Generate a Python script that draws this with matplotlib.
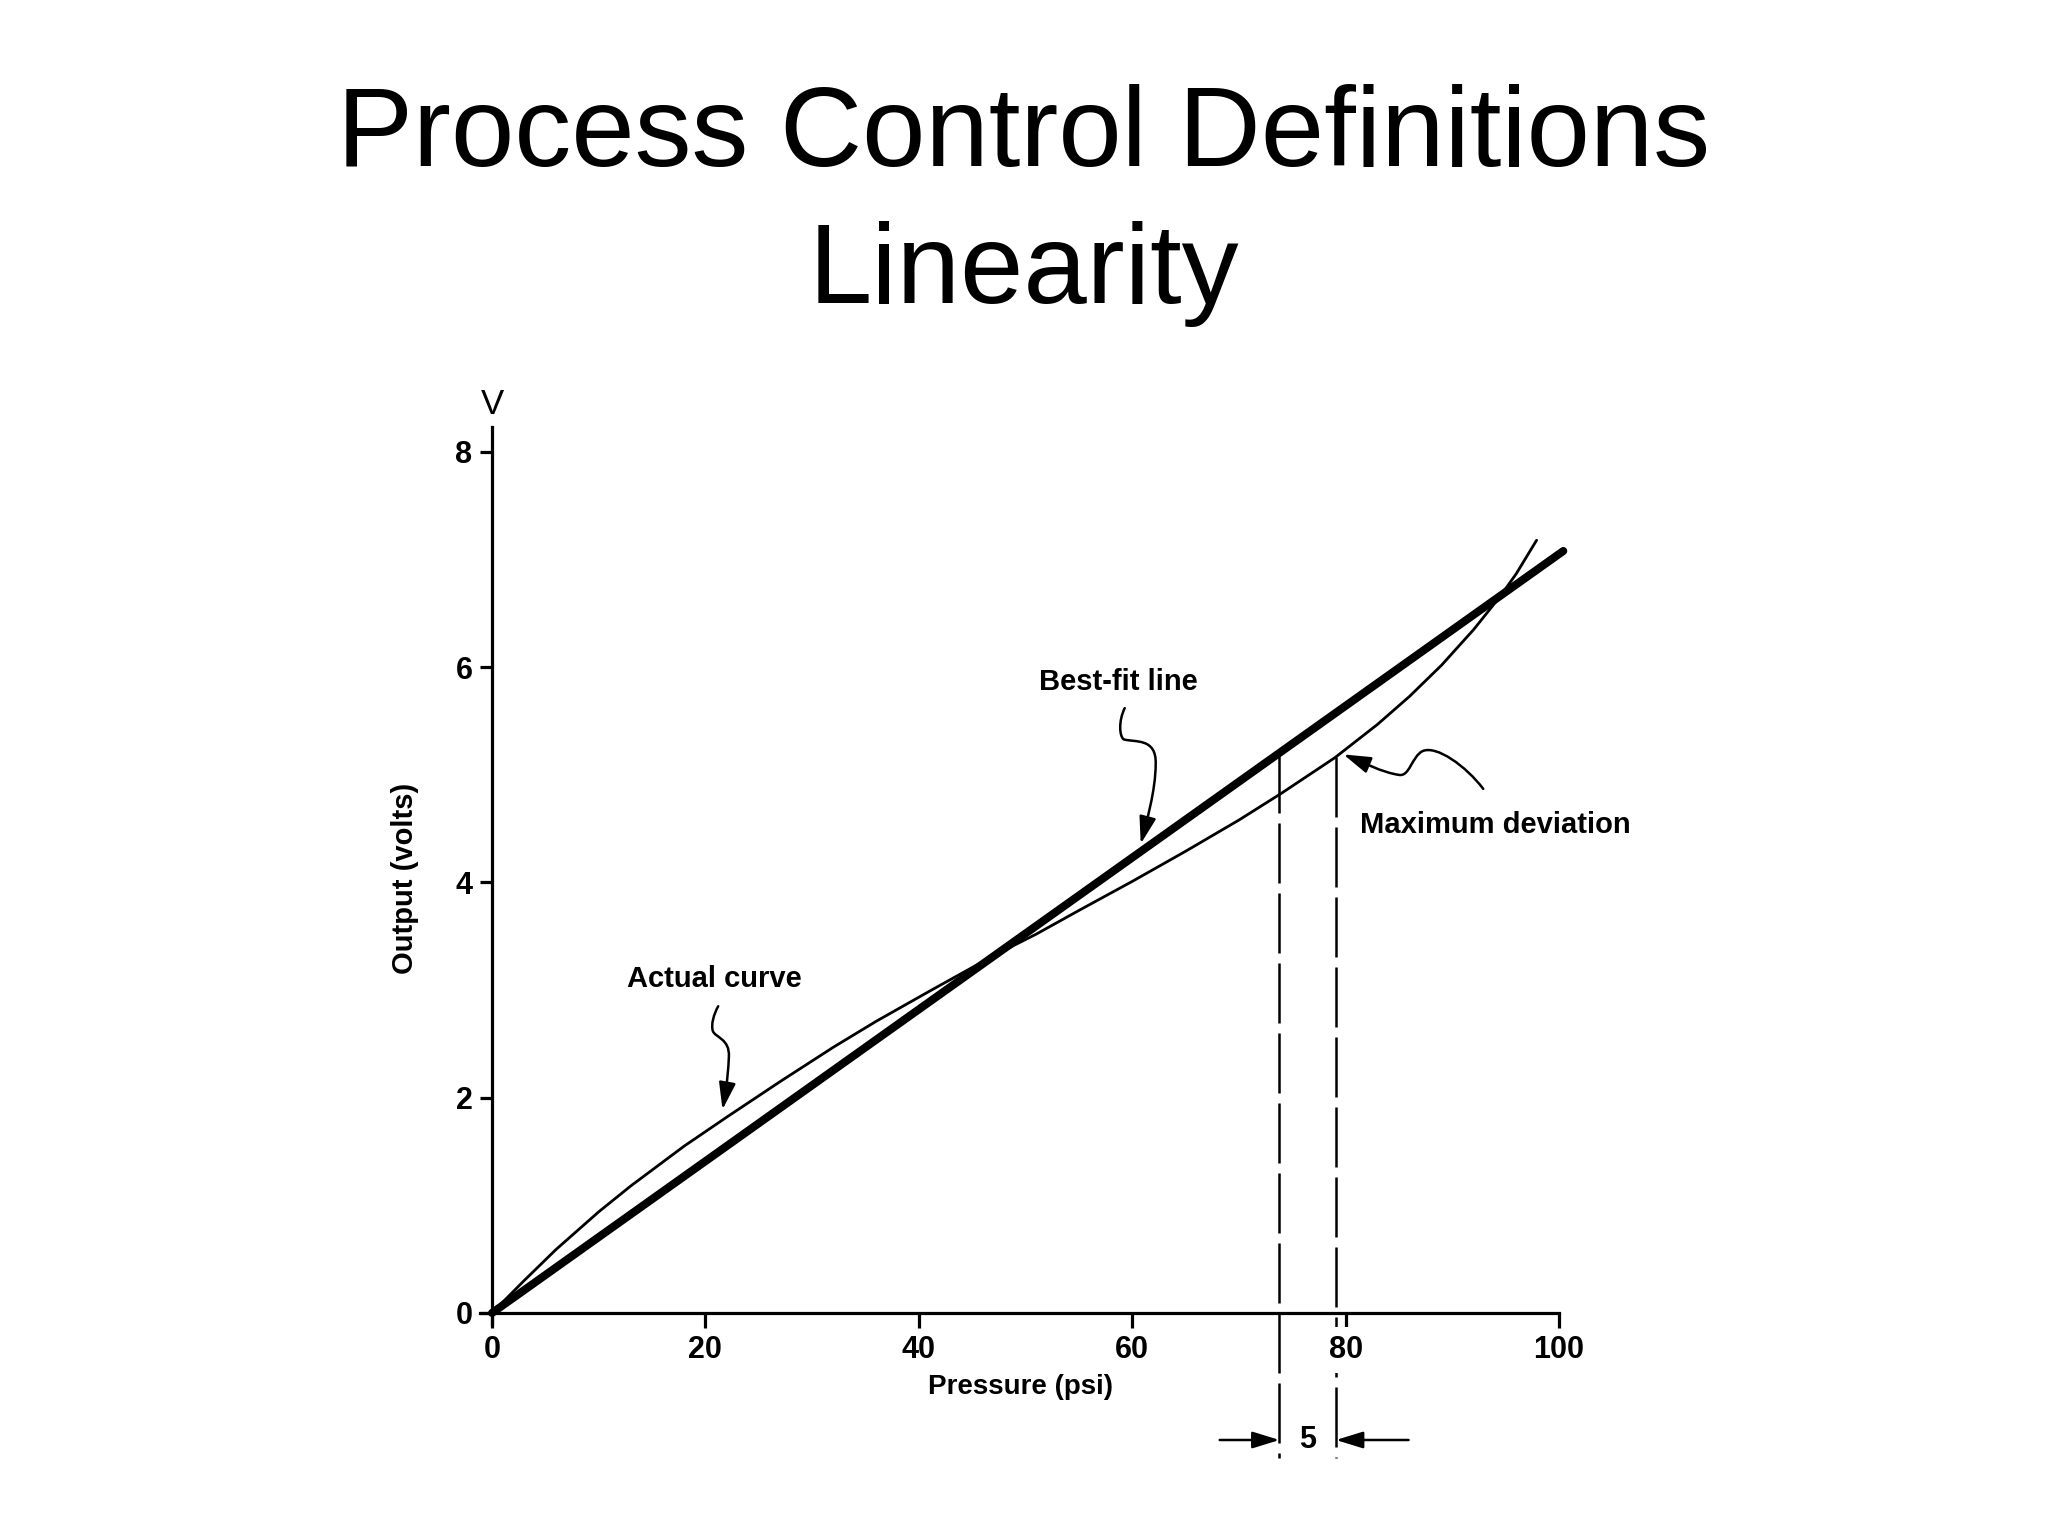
import matplotlib
matplotlib.use("Agg")
import matplotlib.pyplot as plt
from matplotlib.path import Path
from matplotlib.patches import FancyArrowPatch

# ---------------- data ----------------
pressure = [0, 3, 6, 10, 13, 18, 22, 27, 32, 36, 41, 45, 48, 51, 55, 60, 65,
            70, 74, 79, 83, 86, 89, 92, 94.5, 96, 97.9]
actual_output = [0, 0.30, 0.59, 0.94, 1.18, 1.55, 1.82, 2.15, 2.47, 2.71, 2.99,
                 3.21, 3.37, 3.52, 3.74, 4.01, 4.29, 4.58, 4.83, 5.16, 5.47,
                 5.73, 6.02, 6.35, 6.66, 6.87, 7.18]
fit_pressure = [0, 100.4]
fit_output = [0, 7.08]
x_ticks = [0, 20, 40, 60, 80, 100]
y_ticks = [0, 2, 4, 6, 8]
dev_left_x, dev_left_top = 73.8, 5.20    # dashed line from best-fit line
dev_right_x, dev_right_top = 79.1, 5.17  # dashed line from actual curve
dev_bottom = -1.35
dev_label = "5"

title_line1 = "Process Control Definitions"
title_line2 = "Linearity"

# ---------------- layout ----------------
W, H = 2048, 1536
fig = plt.figure(figsize=(W / 100, H / 100), dpi=100)
fig.patch.set_facecolor("white")

X0_PX, X100_PX, Y0_PX, Y8_PX = 492, 1559, 1313, 452
xlim = (-12, 118)
ylim = (-1.6, 8.7)
ppx = (X100_PX - X0_PX) / 100.0
ppy = (Y0_PX - Y8_PX) / 8.0
left_px = X0_PX + xlim[0] * ppx
right_px = X0_PX + xlim[1] * ppx
top_px = Y0_PX - ylim[1] * ppy
bottom_px = Y0_PX - ylim[0] * ppy
ax = fig.add_axes([left_px / W, 1 - bottom_px / H,
                   (right_px - left_px) / W, (bottom_px - top_px) / H])
ax.set_xlim(*xlim)
ax.set_ylim(*ylim)
ax.set_facecolor("white")
ax.set_axisbelow(False)

FONT = ["Liberation Sans", "DejaVu Sans"]

# spines as axes through origin
for s in ["top", "right"]:
    ax.spines[s].set_visible(False)
ax.spines["left"].set_position(("data", 0))
ax.spines["bottom"].set_position(("data", 0))
ax.spines["left"].set_bounds(-0.1, 8.23)
ax.spines["bottom"].set_bounds(-1.1, 100)
for s in ["left", "bottom"]:
    ax.spines[s].set_linewidth(2.3)
    ax.spines[s].set_color("black")

ax.set_xticks(x_ticks)
ax.set_yticks(y_ticks)
ax.set_xticklabels([str(v) for v in x_ticks], fontsize=22, fontweight="bold",
                   family=FONT)
ax.set_yticklabels([str(v) for v in y_ticks], fontsize=22, fontweight="bold",
                   family=FONT)
ax.tick_params(axis="x", direction="out", length=11, width=2.3, pad=5)
ax.tick_params(axis="y", direction="out", length=9, width=2.3, pad=5)
for lbl in ax.get_xticklabels():
    if lbl.get_text() == "80":
        lbl.set_bbox(dict(facecolor="white", edgecolor="none", pad=6))

# ---------------- curves ----------------
ax.plot(fit_pressure, fit_output, color="black", lw=5.8,
        solid_capstyle="round", zorder=3)
ax.plot(pressure, actual_output, color="black", lw=2.0,
        solid_capstyle="round", solid_joinstyle="round", zorder=3)

# dashed deviation lines
ax.plot([dev_left_x, dev_left_x], [dev_left_top, dev_bottom], color="black",
        lw=1.8, dashes=(24, 4), zorder=2)
ax.plot([dev_right_x, dev_right_x], [dev_right_top, dev_bottom], color="black",
        lw=1.8, dashes=(24, 4), zorder=2)

# dimension arrows
arrow_kw = dict(arrowstyle="-|>,head_length=0.55,head_width=0.17",
                mutation_scale=30, lw=1.8, color="black", shrinkA=0, shrinkB=0)
ax.annotate("", xy=(dev_left_x, -1.18), xytext=(68.2, -1.18),
            arrowprops=arrow_kw)
ax.annotate("", xy=(dev_right_x, -1.18), xytext=(85.9, -1.18),
            arrowprops=arrow_kw)
ax.text((dev_left_x + dev_right_x) / 2, -1.18, dev_label, ha="center",
        va="center", fontsize=22, fontweight="bold", family=FONT)

# ---------------- labels ----------------
lab_kw = dict(fontsize=21, fontweight="bold", family=FONT, ha="center",
              va="center")
ax.text(58.7, 5.86, "Best-fit line", **lab_kw)
ax.text(20.8, 3.10, "Actual curve", **lab_kw)
ax.text(94.0, 4.53, "Maximum deviation", **lab_kw)
ax.text(49.5, -0.69, "Pressure (psi)", fontsize=20, fontweight="bold",
        family=FONT, ha="center", va="center")
ax.text(-8.2, 4.04, "Output (volts)", rotation=90, **lab_kw)
ax.text(0.05, 8.44, "V", fontsize=25, family=FONT, ha="center", va="center")


# curly leaders with arrowheads
def leader(points):
    codes = [Path.MOVETO] + [Path.CURVE4] * (len(points) - 1)
    p = FancyArrowPatch(path=Path(points, codes),
                        arrowstyle="-|>,head_length=0.55,head_width=0.17",
                        mutation_scale=30, lw=1.8, color="black", zorder=4)
    ax.add_patch(p)


leader([(59.3, 5.62), (58.7, 5.50), (58.8, 5.36), (59.2, 5.33),
        (60.2, 5.30), (62.3, 5.35), (62.2, 5.10),
        (62.2, 4.85), (61.3, 4.55), (60.8, 4.36)])
leader([(21.2, 2.85), (20.8, 2.78), (20.5, 2.68), (20.7, 2.62),
        (20.9, 2.56), (22.3, 2.55), (22.2, 2.38),
        (22.1, 2.15), (21.8, 2.00), (21.6, 1.89)])
leader([(92.9, 4.87), (91.3, 5.08), (88.5, 5.28), (87.2, 5.22),
        (86.2, 5.17), (86.0, 4.98), (85.0, 5.00),
        (83.5, 5.02), (81.5, 5.12), (79.8, 5.19)])

# ---------------- title ----------------
fig.text(0.5, 1 - 166 / H, title_line1, ha="center", va="baseline",
         fontsize=82, family=FONT)
fig.text(0.5, 1 - 303 / H, title_line2, ha="center", va="baseline",
         fontsize=82, family=FONT)

fig.savefig("out.png", dpi=100, facecolor="white")
